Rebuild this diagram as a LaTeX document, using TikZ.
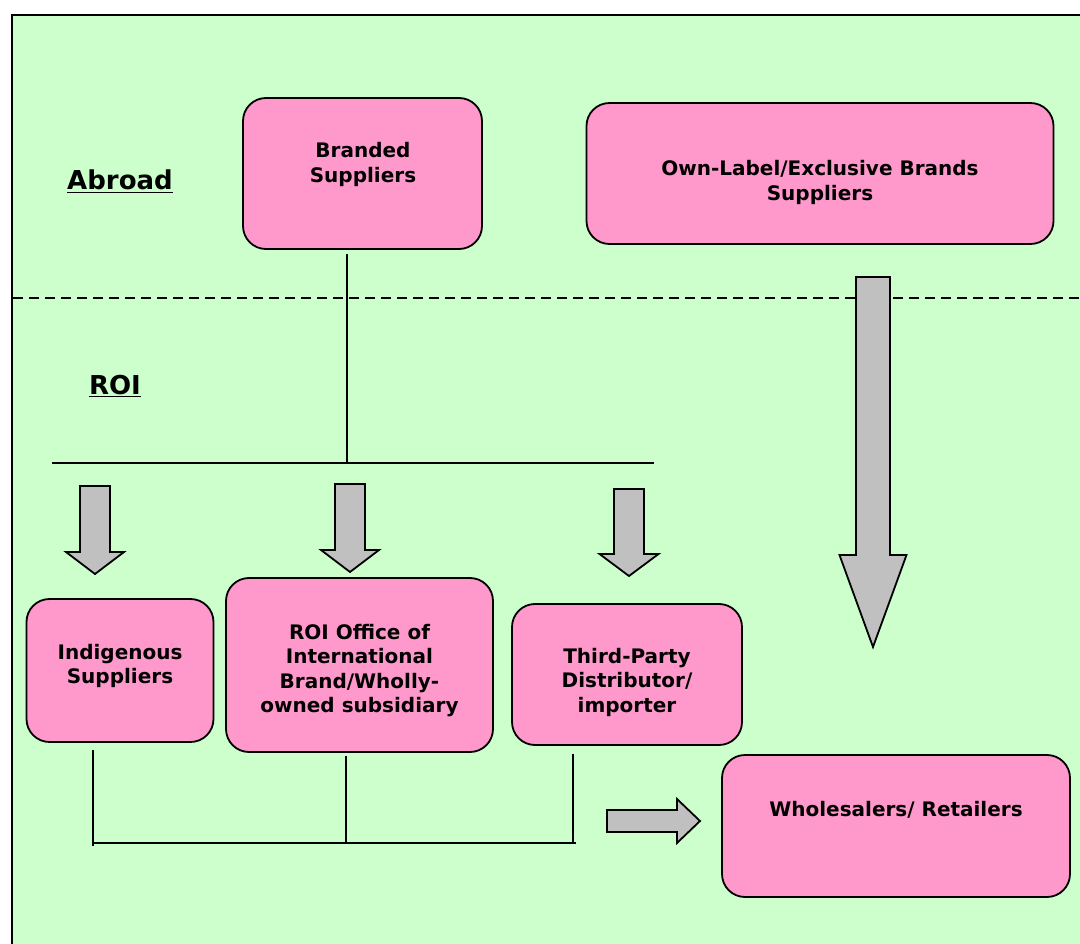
\documentclass[tikz,border=0pt]{standalone}
\usepackage{fontspec}
\setmainfont{DejaVu Sans}
\usetikzlibrary{calc}
\definecolor{bggreen}{HTML}{CCFFCC}
\definecolor{boxpink}{HTML}{FF99CC}
\definecolor{arrgrey}{HTML}{C0C0C0}
\newcommand{\blockdn}[6]{% cx, top, base, tip, half shaft, half head
  \filldraw[blockarrow] (#1-#5,#2) -- (#1+#5,#2) -- (#1+#5,#3) -- (#1+#6,#3)
    -- (#1,#4) -- (#1-#6,#3) -- (#1-#5,#3) -- cycle;}
\begin{document}
\begin{tikzpicture}[x=1pt,y=-1pt,
  box/.style={draw=black,line width=1.8pt,fill=boxpink,rounded corners=23pt,
    inner sep=0pt,minimum width=#1},
  boxtext/.style={align=center,font=\fontsize{20}{24.5}\selectfont\bfseries,inner sep=0pt},
  side/.style={font=\fontsize{26}{30}\selectfont\bfseries,inner sep=0pt,anchor=base},
  conn/.style={draw=black,line width=1.7pt},
  blockarrow/.style={fill=arrgrey,draw=black,line width=1.8pt,line join=miter}]
\useasboundingbox (0,0) rectangle (1080,944);
% background frame
\fill[bggreen] (12,15) rectangle (1082,946);
\draw[line width=2.2pt] (12,946) -- (12,15) -- (1082,15);
% dashed border between Abroad and ROI
\draw[line width=1.4pt,dash pattern=on 10pt off 6pt] (13,298) -- (1080,298);
% side labels
\node[side] (abroad) at (120,190) {\underline{Abroad}};
\node[side] (roi) at (115,394) {\underline{ROI}};
% boxes
\node[box=239pt,minimum height=151pt] (branded) at (362.5,173.5) {};
\node[boxtext] (brandedt) at (363,164.5) {Branded\\Suppliers};
\node[box=467pt,minimum height=141pt] (own) at (820,173.5) {};
\node[boxtext] (ownt) at (820,182.5) {Own-Label/Exclusive Brands\\Suppliers};
\node[box=187pt,minimum height=143pt] (indig) at (120,670.5) {};
\node[boxtext] (indigt) at (120,666) {Indigenous\\Suppliers};
\node[box=267pt,minimum height=174pt] (roioff) at (359.5,665) {};
\node[boxtext] (roiofft) at (359.5,670.5) {ROI Office of\\International\\Brand/Wholly-\\owned subsidiary};
\node[box=230pt,minimum height=141pt] (third) at (627,674.5) {};
\node[boxtext] (thirdt) at (627,682) {Third-Party\\Distributor/\\importer};
\node[box=348pt,minimum height=142pt] (whole) at (896,826) {};
\node[boxtext] (wholet) at (896,810) {Wholesalers/ Retailers};
% split lines
\coordinate (split) at (347,463);
\coordinate (hl) at (52,463);
\coordinate (hr) at (654,463);
\draw[conn,shorten <=4pt] (branded.south -| split) -- (split);
\draw[conn] (hl) -- (hr);
% down arrows
\blockdn{95}{486}{552}{574}{15}{29}
\blockdn{350}{484}{550}{572}{15}{29}
\blockdn{629}{489}{554}{576}{15}{29.5}
\blockdn{873}{277}{555}{647}{17}{33.5}
% join lines
\coordinate (j1) at (93,843);
\coordinate (j2) at (346,843);
\coordinate (j3) at (573,843);
\draw[conn,shorten <=7pt] (indig.south -| j1) -- (93,846);
\draw[conn,shorten <=3pt] (roioff.south -| j2) -- (j2);
\draw[conn,shorten <=8pt] (third.south -| j3) -- (j3);
\draw[conn] (j1) -- (576,843);
% right arrow
\filldraw[blockarrow] (607,810) -- (677,810) -- (677,799) -- (700,821)
  -- (677,843) -- (677,832) -- (607,832) -- cycle;
\end{tikzpicture}
\end{document}
